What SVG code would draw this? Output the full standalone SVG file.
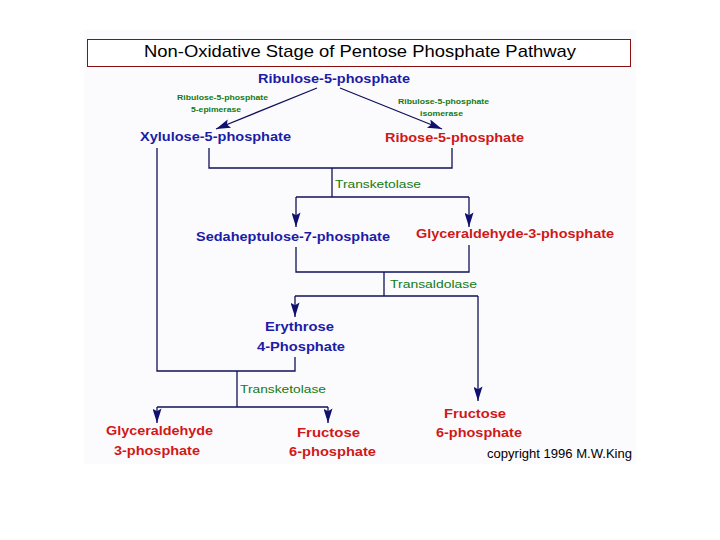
<svg xmlns="http://www.w3.org/2000/svg" width="720" height="540" viewBox="0 0 720 540">
<defs>
<marker id="ah" viewBox="0 0 16 10" refX="16" refY="5" markerWidth="16" markerHeight="9" markerUnits="userSpaceOnUse" orient="auto">
<path d="M0,0 L16,5 L0,10 L3,5 Z" fill="#10106e"/>
</marker>
<style>
.ln{fill:none;stroke:#10105a;stroke-width:1.3}
.bl{font-family:"Liberation Sans",Arial,sans-serif;font-weight:bold;font-size:13px;fill:#1c1ca6}
.rd{font-family:"Liberation Sans",Arial,sans-serif;font-weight:bold;font-size:13px;fill:#d01818}
.gr{font-family:"Liberation Sans",Arial,sans-serif;font-size:11px;fill:#137a13}
.gs{font-family:"Liberation Sans",Arial,sans-serif;font-weight:bold;font-size:8px;fill:#137a13}
.tt{font-family:"Liberation Sans",Arial,sans-serif;font-size:17px;fill:#000}
.cp{font-family:"Liberation Sans",Arial,sans-serif;font-size:12px;fill:#000}
</style>
</defs>
<rect x="0" y="0" width="720" height="540" fill="#fff"/>
<rect x="84" y="30" width="552" height="434" fill="#fbfbfd"/>
<g id="title">
<rect x="87.5" y="39.5" width="543" height="27" fill="#fff" stroke="#8a1010" stroke-width="1"/>
<text class="tt" x="144" y="57" textLength="432" lengthAdjust="spacingAndGlyphs">Non-Oxidative Stage of Pentose Phosphate Pathway</text>
</g>
<g id="connectors">
<line class="ln" x1="317" y1="88" x2="216" y2="129" marker-end="url(#ah)" stroke-width="1.2"/>
<line class="ln" x1="340" y1="88" x2="442" y2="129" marker-end="url(#ah)" stroke-width="1.2"/>
<polyline class="ln" points="157,148 157,371 295,371 295,357"/>
<polyline class="ln" points="209,148 209,168 452,168 452,148"/>
<line class="ln" x1="332" y1="168" x2="332" y2="197"/>
<polyline class="ln" points="296,197 469,197"/>
<line class="ln" x1="296" y1="197" x2="296" y2="227" marker-end="url(#ah)"/>
<line class="ln" x1="469" y1="197" x2="469" y2="227" marker-end="url(#ah)"/>
<polyline class="ln" points="296,247 296,272 469,272 469,245"/>
<line class="ln" x1="384" y1="272" x2="384" y2="296"/>
<polyline class="ln" points="295,296 478,296"/>
<line class="ln" x1="295" y1="296" x2="295" y2="317" marker-end="url(#ah)"/>
<line class="ln" x1="478" y1="296" x2="478" y2="401" marker-end="url(#ah)"/>
<line class="ln" x1="237" y1="371" x2="237" y2="407"/>
<polyline class="ln" points="157,407 328,407" stroke-width="2"/>
<line class="ln" x1="157" y1="407" x2="157" y2="423" marker-end="url(#ah)"/>
<line class="ln" x1="328" y1="407" x2="328" y2="423" marker-end="url(#ah)"/>
</g>
<g id="ribulose"><text class="bl" x="258" y="83" textLength="152" lengthAdjust="spacingAndGlyphs">Ribulose-5-phosphate</text></g>
<g id="epimerase">
<text class="gs" x="177" y="100" textLength="91" lengthAdjust="spacingAndGlyphs">Ribulose-5-phosphate</text>
<text class="gs" x="191" y="112" textLength="50" lengthAdjust="spacingAndGlyphs">5-epimerase</text>
</g>
<g id="isomerase">
<text class="gs" x="398" y="104" textLength="91" lengthAdjust="spacingAndGlyphs">Ribulose-5-phosphate</text>
<text class="gs" x="420" y="116" textLength="43" lengthAdjust="spacingAndGlyphs">isomerase</text>
</g>
<g id="xylulose"><text class="bl" x="140" y="141" textLength="151" lengthAdjust="spacingAndGlyphs">Xylulose-5-phosphate</text></g>
<g id="ribose"><text class="rd" x="385" y="142" textLength="139" lengthAdjust="spacingAndGlyphs">Ribose-5-phosphate</text></g>
<g id="transketolase1"><text class="gr" x="335" y="188" textLength="86" lengthAdjust="spacingAndGlyphs">Transketolase</text></g>
<g id="sedoheptulose"><text class="bl" x="196" y="241" textLength="194" lengthAdjust="spacingAndGlyphs">Sedaheptulose-7-phosphate</text></g>
<g id="gap1"><text class="rd" x="416" y="238" textLength="198" lengthAdjust="spacingAndGlyphs">Glyceraldehyde-3-phosphate</text></g>
<g id="transaldolase"><text class="gr" x="390" y="288" textLength="87" lengthAdjust="spacingAndGlyphs">Transaldolase</text></g>
<g id="erythrose">
<text class="bl" x="299.5" y="331" text-anchor="middle" textLength="69" lengthAdjust="spacingAndGlyphs">Erythrose</text>
<text class="bl" x="301" y="351" text-anchor="middle" textLength="88" lengthAdjust="spacingAndGlyphs">4-Phosphate</text>
</g>
<g id="transketolase2"><text class="gr" x="240" y="393" textLength="86" lengthAdjust="spacingAndGlyphs">Transketolase</text></g>
<g id="f6p1">
<text class="rd" x="475" y="418" text-anchor="middle" textLength="62" lengthAdjust="spacingAndGlyphs">Fructose</text>
<text class="rd" x="479" y="437" text-anchor="middle" textLength="86" lengthAdjust="spacingAndGlyphs">6-phosphate</text>
</g>
<g id="gap2">
<text class="rd" x="159.5" y="435" text-anchor="middle" textLength="107" lengthAdjust="spacingAndGlyphs">Glyceraldehyde</text>
<text class="rd" x="157" y="455" text-anchor="middle" textLength="86" lengthAdjust="spacingAndGlyphs">3-phosphate</text>
</g>
<g id="f6p2">
<text class="rd" x="328.5" y="437" text-anchor="middle" textLength="63" lengthAdjust="spacingAndGlyphs">Fructose</text>
<text class="rd" x="332.5" y="456" text-anchor="middle" textLength="87" lengthAdjust="spacingAndGlyphs">6-phosphate</text>
</g>
<g id="copyright"><text class="cp" x="487" y="458" textLength="145" lengthAdjust="spacingAndGlyphs">copyright 1996 M.W.King</text></g>
</svg>
